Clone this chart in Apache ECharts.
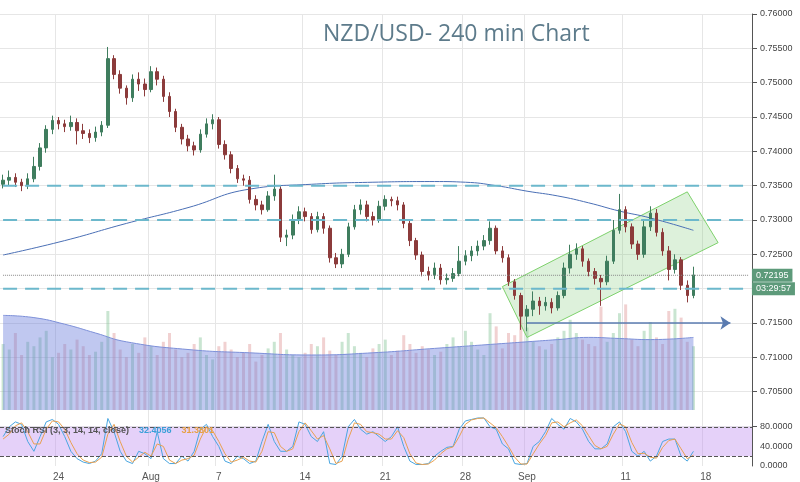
<!DOCTYPE html>
<html>
<head>
<meta charset="utf-8">
<script src="https://cdn.jsdelivr.net/npm/echarts@6/dist/echarts.min.js"></script>
<style>html,body{margin:0;padding:0;background:#fff}#main{width:800px;height:482px}</style>
</head>
<body>
<div id="main"></div>
<script>
// tick labels on the date axis (candle index -> text)
const tickIdx = [9, 24, 35, 49, 62, 75, 85, 101, 114];
const tickText = ['24', 'Aug', '7', '14', '21', '28', 'Sep', '11', '18'];
const totalSlots = 122;

// 4h candles: [open, close, low, high]
const candles = [
  [0.7352,0.7358,0.7346,0.7366],[0.7358,0.7362,0.7350,0.7372],[0.7362,0.7355,0.7348,0.7368],[0.7355,0.7350,0.7342,0.7360],
  [0.7350,0.7360,0.7345,0.7368],[0.7360,0.7378,0.7355,0.7392],[0.7378,0.7405,0.7372,0.7412],[0.7405,0.7432,0.7398,0.7438],
  [0.7432,0.7445,0.7425,0.7452],[0.7445,0.7440,0.7432,0.7450],[0.7440,0.7436,0.7428,0.7446],[0.7436,0.7442,0.7430,0.7452],
  [0.7442,0.7430,0.7410,0.7448],[0.7430,0.7426,0.7418,0.7440],[0.7426,0.7420,0.7412,0.7432],[0.7420,0.7428,0.7414,0.7436],
  [0.7428,0.7438,0.7422,0.7444],[0.7438,0.7535,0.7434,0.7552],[0.7535,0.7512,0.7505,0.7540],[0.7512,0.7492,0.7484,0.7518],
  [0.7492,0.7478,0.7468,0.7496],[0.7478,0.7505,0.7472,0.7512],[0.7505,0.7498,0.7488,0.7515],[0.7498,0.7490,0.7480,0.7506],
  [0.7490,0.7516,0.7486,0.7524],[0.7516,0.7505,0.7496,0.7522],[0.7505,0.7480,0.7472,0.7510],[0.7480,0.7458,0.7450,0.7486],
  [0.7458,0.7435,0.7428,0.7462],[0.7435,0.7418,0.7410,0.7440],[0.7418,0.7408,0.7400,0.7424],[0.7408,0.7402,0.7394,0.7414],
  [0.7402,0.7425,0.7398,0.7432],[0.7425,0.7440,0.7420,0.7448],[0.7440,0.7446,0.7432,0.7454],[0.7446,0.7410,0.7404,0.7450],
  [0.7410,0.7395,0.7388,0.7416],[0.7395,0.7375,0.7368,0.7400],[0.7375,0.7360,0.7354,0.7380],[0.7360,0.7358,0.7350,0.7366],
  [0.7358,0.7330,0.7324,0.7364],[0.7330,0.7322,0.7314,0.7336],[0.7322,0.7315,0.7308,0.7328],[0.7315,0.7335,0.7312,0.7342],
  [0.7335,0.7345,0.7328,0.7366],[0.7345,0.7275,0.7268,0.7350],[0.7275,0.7278,0.7262,0.7286],[0.7278,0.7300,0.7272,0.7308],
  [0.7300,0.7312,0.7294,0.7320],[0.7312,0.7305,0.7298,0.7318],[0.7305,0.7286,0.7280,0.7310],[0.7286,0.7305,0.7282,0.7312],
  [0.7305,0.7288,0.7280,0.7310],[0.7288,0.7245,0.7238,0.7292],[0.7245,0.7236,0.7230,0.7252],[0.7236,0.7250,0.7230,0.7258],
  [0.7250,0.7290,0.7246,0.7296],[0.7290,0.7315,0.7286,0.7322],[0.7315,0.7322,0.7308,0.7330],[0.7322,0.7305,0.7298,0.7328],
  [0.7305,0.7300,0.7292,0.7312],[0.7300,0.7320,0.7296,0.7328],[0.7320,0.7330,0.7314,0.7336],[0.7330,0.7328,0.7320,0.7334],
  [0.7328,0.7322,0.7314,0.7334],[0.7322,0.7295,0.7288,0.7326],[0.7295,0.7270,0.7262,0.7300],[0.7270,0.7249,0.7242,0.7274],
  [0.7249,0.7225,0.7218,0.7254],[0.7225,0.7220,0.7212,0.7232],[0.7220,0.7230,0.7214,0.7238],[0.7230,0.7213,0.7206,0.7236],
  [0.7213,0.7215,0.7206,0.7222],[0.7215,0.7222,0.7210,0.7230],[0.7222,0.7240,0.7218,0.7262],[0.7240,0.7248,0.7234,0.7256],
  [0.7248,0.7255,0.7240,0.7262],[0.7255,0.7262,0.7248,0.7270],[0.7262,0.7270,0.7256,0.7278],[0.7270,0.7288,0.7264,0.7298],
  [0.7288,0.7255,0.7250,0.7292],[0.7255,0.7245,0.7238,0.7262],[0.7245,0.7210,0.7204,0.7250],[0.7210,0.7190,0.7184,0.7214],
  [0.7190,0.7160,0.7140,0.7194],[0.7160,0.7170,0.7138,0.7176],[0.7170,0.7182,0.7160,0.7196],[0.7182,0.7175,0.7162,0.7188],
  [0.7175,0.7180,0.7168,0.7188],[0.7180,0.7172,0.7164,0.7186],[0.7172,0.7190,0.7168,0.7196],[0.7190,0.7230,0.7186,0.7238],
  [0.7230,0.7250,0.7222,0.7264],[0.7250,0.7258,0.7242,0.7266],[0.7258,0.7240,0.7232,0.7262],[0.7240,0.7225,0.7218,0.7244],
  [0.7225,0.7215,0.7206,0.7230],[0.7215,0.7210,0.7175,0.7220],[0.7210,0.7240,0.7205,0.7248],[0.7240,0.7285,0.7236,0.7300],
  [0.7285,0.7315,0.7280,0.7338],[0.7315,0.7290,0.7282,0.7320],[0.7290,0.7265,0.7258,0.7295],[0.7265,0.7250,0.7242,0.7270],
  [0.7250,0.7290,0.7245,0.7300],[0.7290,0.7310,0.7284,0.7320],[0.7310,0.7282,0.7276,0.7316],[0.7282,0.7255,0.7248,0.7288],
  [0.7255,0.7228,0.7212,0.7262],[0.7228,0.7242,0.7222,0.7250],[0.7242,0.7205,0.7198,0.7246],[0.7205,0.7190,0.7180,0.7212],
  [0.7190,0.7220,0.7186,0.7232]
];

// 200-period moving average, [candle index, price]
const maIdx = [0, 10, 20, 30, 40, 50, 60, 70, 75, 80, 85, 90, 95, 100, 105, 112];
const maVal = [0.7249, 0.7270, 0.7295, 0.7318, 0.7345, 0.7352, 0.7355, 0.7356, 0.7355, 0.7350, 0.7342, 0.7335, 0.7325, 0.7313, 0.7303, 0.7285];

// volume bars and their moving average
const volume = [
  60,55,70,50,62,58,66,72,48,52,60,55,64,58,50,53,62,90,70,55,48,60,52,66,58,50,62,70,55,48,
  52,60,66,50,46,58,62,55,48,52,60,44,50,56,62,70,55,50,48,52,60,58,66,54,50,62,70,58,52,48,
  56,60,64,50,54,68,60,52,58,55,50,53,60,66,58,72,62,55,50,88,76,56,70,68,92,75,62,58,55,60,
  66,72,82,70,64,60,58,94,62,70,88,96,64,58,72,80,66,60,90,92,84,62,58
];
const volMaIdx = [0, 5, 10, 15, 20, 30, 40, 50, 60, 70, 80, 85, 90, 95, 100, 105, 112];
const volMaVal = [86, 84, 78, 70, 62, 55, 52, 50, 52, 56, 60, 62, 64, 66, 65, 64, 66];

// Stoch RSI K and D
const stochK = [
  60,80,90,85,50,30,60,90,95,85,60,30,15,8,5,10,25,97,70,30,10,5,30,25,15,70,15,5,5,20,
  10,30,75,85,60,40,10,5,20,15,5,10,50,85,50,30,30,40,90,85,60,50,70,5,3,20,80,95,75,65,
  70,60,50,60,80,40,10,3,3,5,20,30,38,40,75,92,95,98,98,80,75,45,35,5,3,5,40,50,70,97,
  85,75,97,90,75,50,35,35,45,80,90,70,30,20,30,10,20,50,55,55,20,10,30
];
const stochD = [
  55,65,82,88,70,45,45,75,92,90,75,48,25,12,7,8,18,65,85,50,20,8,18,28,20,45,40,12,5,12,
  15,22,55,80,72,50,25,8,12,18,10,8,30,70,68,40,30,35,70,88,72,55,62,35,5,10,55,88,85,70,
  68,65,55,55,72,58,25,6,3,4,12,25,35,39,60,85,94,97,98,88,78,60,40,18,4,4,25,45,62,88,
  90,80,88,94,82,62,42,35,40,65,86,80,48,25,26,18,16,38,52,55,35,15,22
];
const stochLast = ['32.4056', '31.3801'];

// ascending channel corners, [candle index, price]
const channelIdx = [81.1, 85.0, 115.8, 111.4];
const channelPrice = [0.7203, 0.7129, 0.7267, 0.7341];

// dashed support/resistance levels
const levels = [0.735, 0.730, 0.720];
const lastPrice = 0.72195;
const countdown = '03:29:57';
const targetPrice = 0.715;
const targetFrom = 85, targetTo = 118;

const cats = [];
for (let i = 0; i < totalSlots; i++) {
  const k = tickIdx.indexOf(i);
  cats.push(k >= 0 ? tickText[k] : '');
}
const isTick = i => tickIdx.indexOf(i) >= 0;

const up = '#3f7d5e', down = '#8c3b3b';
const chart = echarts.init(document.getElementById('main'));
const fmt5 = v => v.toFixed(5);
const tag = { backgroundColor: '#5d9a7a', color: '#fff', fontSize: 9, padding: [2, 4] };

const xBase = {
  type: 'category', data: cats, boundaryGap: true,
  axisTick: { show: false },
  axisLine: { show: false },
  splitLine: { show: true, interval: (i) => isTick(i), lineStyle: { color: '#e6e6e6' } }
};

// one dashed series per level, spanning the whole axis
const levelSeries = levels.map(v => ({
  type: 'line', xAxisIndex: 0, yAxisIndex: 0, symbol: 'none', z: 6, silent: true,
  data: [[0, v], [totalSlots - 1, v]],
  lineStyle: { color: '#6cb8cc', type: [14, 8], width: 2 },
  endLabel: v === 0.720 ? Object.assign({ show: true, formatter: countdown, distance: 3 }, tag) : { show: false }
}));

chart.setOption({
  animation: false,
  title: [
    { text: 'NZD/USD- 240 min Chart', left: 318, top: 18, textStyle: { fontFamily: 'Open Sans', fontWeight: 'normal', fontSize: 23, color: '#5d7b8b' } },
    {
      text: '{a|Stoch RSI (3, 3, 14, 14, close)}  {b|' + stochLast[0] + '}  {c|' + stochLast[1] + '}',
      left: 0, top: 417,
      textStyle: { rich: { a: { fontSize: 9, color: '#555' }, b: { fontSize: 9, color: '#3aa0d8' }, c: { fontSize: 9, color: '#e8a040' } } }
    }
  ],
  grid: [
    { left: 0, right: 48, top: 14, bottom: 56 },
    { left: 0, right: 48, top: 300, bottom: 72 },
    { left: 0, right: 48, top: 417, bottom: 16 }
  ],
  xAxis: [
    Object.assign({ gridIndex: 0, axisLabel: { show: false } }, xBase),
    Object.assign({ gridIndex: 1, axisLabel: { show: false } }, xBase, { splitLine: { show: false } }),
    Object.assign({ gridIndex: 2, axisLabel: { show: true, interval: 0, color: '#555', fontSize: 10, margin: 6 } }, xBase)
  ],
  yAxis: [
    {
      gridIndex: 0, type: 'value', position: 'right', min: 0.70, max: 0.76, interval: 0.005,
      axisLine: { show: true, lineStyle: { color: '#555' } }, axisTick: { show: true },
      axisLabel: { fontSize: 9, color: '#444', formatter: v => (v < 0.7049 ? '' : fmt5(v)) },
      splitLine: { show: true, lineStyle: { color: '#e6e6e6' } }
    },
    { gridIndex: 1, type: 'value', min: 0, max: 100, show: false },
    {
      gridIndex: 2, type: 'value', position: 'right', min: 0, max: 100, interval: 40,
      axisLine: { show: true, lineStyle: { color: '#555' } },
      axisLabel: { fontSize: 9, color: '#444', formatter: v => (v > 90 ? '' : v.toFixed(4)) },
      splitLine: { show: false }
    }
  ],
  series: [
    {
      type: 'bar', xAxisIndex: 1, yAxisIndex: 1, barWidth: 3, z: 1,
      data: volume.map((v, i) => ({
        value: v,
        itemStyle: { color: candles[i][1] >= candles[i][0] ? 'rgba(120,190,140,0.4)' : 'rgba(220,140,140,0.4)' }
      }))
    },
    {
      type: 'line', xAxisIndex: 1, yAxisIndex: 1, smooth: true, symbol: 'none', z: 2,
      data: volMaIdx.map((x, i) => [x, volMaVal[i]]),
      lineStyle: { color: '#7c8fd8', width: 1 },
      areaStyle: { color: 'rgba(105,125,220,0.6)' }
    },
    {
      type: 'candlestick', xAxisIndex: 0, yAxisIndex: 0, barWidth: 3, z: 5,
      data: candles,
      itemStyle: { color: up, color0: down, borderColor: up, borderColor0: down }
    },
    ...levelSeries,
    {
      // last price (dotted) with its axis tag
      type: 'line', xAxisIndex: 0, yAxisIndex: 0, symbol: 'none', z: 6, silent: true,
      data: [[0, lastPrice], [totalSlots - 1, lastPrice]],
      lineStyle: { color: '#888', type: 'dotted', width: 1 },
      endLabel: Object.assign({ show: true, formatter: '0.72195', distance: 3 }, tag)
    },
    {
      // target arrow
      type: 'line', xAxisIndex: 0, yAxisIndex: 0, data: [], z: 6,
      markLine: {
        silent: true, symbol: ['none', 'arrow'], symbolSize: 10,
        label: { show: false },
        lineStyle: { color: '#5a7bb0', width: 1.5, type: 'solid' },
        data: [[{ coord: [targetFrom, targetPrice] }, { coord: [targetTo, targetPrice] }]]
      }
    },
    {
      type: 'line', xAxisIndex: 0, yAxisIndex: 0, smooth: true, symbol: 'none', z: 4,
      data: maIdx.map((x, i) => [x, maVal[i]]),
      lineStyle: { color: '#4a6fb5', width: 1 }
    },
    {
      type: 'custom', xAxisIndex: 0, yAxisIndex: 0, z: 3,
      data: [0],
      renderItem: (params, api) => ({
        type: 'polygon',
        shape: { points: channelIdx.map((x, i) => api.coord([x, channelPrice[i]])) },
        style: { fill: 'rgba(120,200,110,0.25)', stroke: '#7ed16c', lineWidth: 1 }
      })
    },
    {
      type: 'line', xAxisIndex: 2, yAxisIndex: 2, symbol: 'none', data: stochK,
      lineStyle: { color: '#4aa6e0', width: 1 },
      markArea: { silent: true, itemStyle: { color: 'rgba(190,140,240,0.4)' }, data: [[{ yAxis: 20 }, { yAxis: 80 }]] },
      markLine: { symbol: 'none', silent: true, label: { show: false },
        lineStyle: { color: '#555', type: 'dashed', width: 1 }, data: [{ yAxis: 20 }, { yAxis: 80 }] }
    },
    {
      type: 'line', xAxisIndex: 2, yAxisIndex: 2, symbol: 'none', data: stochD,
      lineStyle: { color: '#e8a050', width: 1 }
    }
  ]
});
</script>
</body>
</html>
